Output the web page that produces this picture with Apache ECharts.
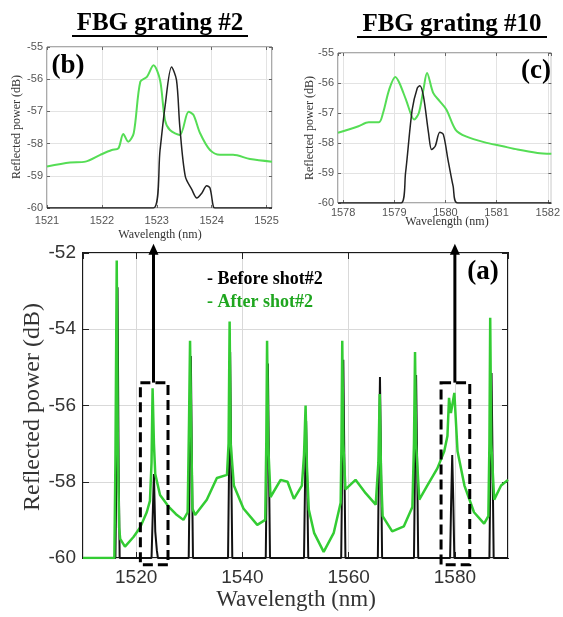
<!DOCTYPE html>
<html>
<head>
<meta charset="utf-8">
<script src="https://cdn.jsdelivr.net/npm/echarts@6/dist/echarts.min.js"></script>
<style>
  html, body { margin: 0; padding: 0; background: #fff; }
  #chart { width: 563px; height: 617px; }
</style>
</head>
<body>
<div id="chart"></div>
<script>
// (a) full spectrum, after shot#2 (green)
const mainWl = [1510, 1515.9, 1516.1, 1516.35, 1516.55, 1516.8, 1517.0, 1517.9, 1519.5, 1520.75, 1522.0, 1522.6, 1522.9, 1523.1, 1523.35, 1523.6, 1524.5, 1526.1, 1527.5, 1528.9, 1529.7, 1529.95, 1530.15, 1530.35, 1530.6, 1531.1, 1533.3, 1535.2, 1537.1, 1537.4, 1537.6, 1537.8, 1538.4, 1540.2, 1542.8, 1544.3, 1544.5, 1544.65, 1544.85, 1545.3, 1547.2, 1548.5, 1549.7, 1551.2, 1551.6, 1551.9, 1552.15, 1552.5, 1553.5, 1555.3, 1557.2, 1558.5, 1558.65, 1558.8, 1559.0, 1559.4, 1561.3, 1563.2, 1565.1, 1565.6, 1565.85, 1566.1, 1566.4, 1568.2, 1570.4, 1572.0, 1572.3, 1572.5, 1572.7, 1573.3, 1574.8, 1576.7, 1578.0, 1578.6, 1578.9, 1579.25, 1579.9, 1580.5, 1581.8, 1583.6, 1585.5, 1586.3, 1586.5, 1586.65, 1586.85, 1587.4, 1588.7, 1590];
const mainAfter = [-60, -60, -57.5, -52.2, -57, -59.2, -59.5, -59.7, -59.45, -59.2, -58.8, -58.5, -57.5, -55.55, -57.0, -57.8, -58.35, -58.65, -58.85, -59.0, -58.8, -56.5, -54.3, -56.5, -58.7, -58.87, -58.47, -57.9, -57.82, -57.0, -53.8, -57.0, -58.1, -58.7, -59.13, -59.0, -57.0, -54.3, -57.0, -58.4, -57.95, -58.0, -58.45, -58.1, -57.3, -56.0, -57.6, -58.73, -59.34, -59.84, -59.34, -58.55, -57.0, -54.3, -57.0, -58.2, -57.95, -58.3, -58.6, -57.5, -55.7, -57.8, -58.9, -59.3, -59.17, -58.66, -57.0, -54.6, -57.0, -58.47, -58.1, -57.65, -57.2, -56.8, -55.8, -56.2, -55.67, -57.2, -58.1, -58.8, -59.1, -58.9, -57.0, -53.7, -57.0, -58.47, -58.1, -57.95];

// (a) full spectrum, before shot#2 (black)
const beforeWl = [1510, 1516.1, 1516.3, 1516.5, 1516.7, 1516.9, 1522.9, 1523.1, 1523.35, 1523.6, 1523.9, 1524.1, 1529.9, 1530.1, 1530.3, 1530.5, 1530.7, 1537.3, 1537.5, 1537.7, 1537.9, 1538.1, 1544.4, 1544.6, 1544.8, 1545.0, 1545.2, 1551.6, 1551.8, 1552.0, 1552.2, 1552.4, 1558.6, 1558.8, 1559.0, 1559.2, 1559.4, 1565.5, 1565.7, 1565.9, 1566.1, 1566.3, 1572.3, 1572.5, 1572.7, 1572.9, 1573.1, 1579.1, 1579.3, 1579.5, 1579.7, 1579.9, 1586.5, 1586.7, 1586.9, 1587.1, 1587.3, 1590];
const mainBefore = [-60, -60, -57.5, -52.9, -57.5, -60, -60, -59.0, -57.8, -59.3, -59.8, -60, -60, -57.5, -54.7, -57.5, -60, -60, -57.5, -54.6, -57.5, -60, -60, -57.5, -54.9, -57.5, -60, -60, -58, -56.4, -58, -60, -60, -57.5, -54.8, -57.5, -60, -60, -57.5, -55.25, -57.5, -60, -60, -57.5, -55.2, -57.5, -60, -60, -58.5, -57.3, -58.5, -60, -60, -57.5, -55.15, -57.5, -60, -60];

// (b) FBG grating #2
const gr2AfterWl = [1521, 1521.42, 1521.7, 1521.97, 1522.18, 1522.3, 1522.39, 1522.48, 1522.58, 1522.7, 1522.82, 1522.94, 1523.06, 1523.15, 1523.24, 1523.42, 1523.58, 1523.67, 1523.79, 1523.97, 1524.15, 1524.39, 1524.7, 1525.1];
const gr2After = [-58.71, -58.59, -58.56, -58.35, -58.2, -58.15, -57.7, -57.94, -57.68, -56.08, -55.93, -55.57, -56.03, -57.27, -57.58, -57.73, -57.01, -57.11, -57.68, -58.2, -58.35, -58.35, -58.48, -58.56];
const gr2BeforeWl = [1521, 1522.94, 1523.06, 1523.15, 1523.27, 1523.36, 1523.42, 1523.52, 1523.64, 1523.73, 1523.82, 1523.91, 1523.97, 1524.03, 1524.06, 1525.1];
const gr2Before = [-60, -60, -58.2, -56.86, -55.62, -56.03, -57.47, -59.02, -59.43, -59.69, -59.54, -59.31, -59.38, -59.95, -60, -60];

// (c) FBG grating #10
const gr10AfterWl = [1577.9, 1578.3, 1578.5, 1578.7, 1578.78, 1578.9, 1579.02, 1579.1, 1579.23, 1579.39, 1579.48, 1579.57, 1579.64, 1579.76, 1579.89, 1580.02, 1580.2, 1580.4, 1580.77, 1581.1, 1581.41, 1581.8, 1582.07];
const gr10After = [-57.66, -57.44, -57.31, -57.31, -57.0, -56.22, -55.8, -56.0, -56.56, -57.22, -57.0, -56.22, -55.67, -56.33, -56.61, -56.89, -57.56, -57.78, -57.98, -58.1, -58.22, -58.33, -58.36];
const gr10BeforeWl = [1577.9, 1579.13, 1579.22, 1579.35, 1579.45, 1579.5, 1579.57, 1579.67, 1579.73, 1579.8, 1579.89, 1579.96, 1580.05, 1580.15, 1580.24, 1582.07];
const gr10Before = [-60, -60, -59.0, -56.89, -56.17, -56.09, -56.44, -57.67, -58.22, -58.11, -57.64, -57.72, -58.56, -59.44, -60, -60];

// dashed zoom boxes and arrows on (a)
const boxLeft = [1520.8, 1577.4];
const boxRight = [1526.0, 1582.8];
const arrowWl = [1523.27, 1580.0];
const boxTop = -55.4;
const boxBottom = -60.18;
const arrowTip = -51.76;

const zip = (xs, ys) => xs.map((x, i) => [x, ys[i]]);
const plain = (v) => String(v);

const chart = echarts.init(document.getElementById('chart'));

const sans = 'Liberation Sans';
const serif = 'Liberation Serif';

function mainX(top) {
  return {
    gridIndex: 0, type: 'value', min: 1510, max: 1590, splitNumber: 4,
    position: top ? 'top' : 'bottom',
    axisLine: { show: false },
    axisTick: { inside: true, length: 6, lineStyle: { color: '#222' } },
    axisLabel: top ? { show: false } : { showMinLabel: false, showMaxLabel: false, formatter: plain, fontSize: 19, color: '#333', fontFamily: sans, margin: 10 },
    splitLine: { show: !top, lineStyle: { color: '#d9d9d9' } }
  };
}
function mainY(right) {
  return {
    gridIndex: 0, type: 'value', min: -60, max: -52, interval: 2,
    position: right ? 'right' : 'left',
    axisLine: { show: false },
    axisTick: { inside: true, length: 6, lineStyle: { color: '#222' } },
    axisLabel: right ? { show: false } : { fontSize: 19, color: '#333', fontFamily: sans, margin: 7 },
    splitLine: { show: !right, lineStyle: { color: '#d9d9d9' } }
  };
}
function insetX(g, min, max, opp, margin) {
  return {
    gridIndex: g, type: 'value', min: min, max: max, splitNumber: 4,
    position: opp ? 'top' : 'bottom',
    axisLine: { show: false },
    axisTick: { inside: true, length: 3, lineStyle: { color: '#666' } },
    axisLabel: opp ? { show: false } : { showMinLabel: min % 1 === 0, showMaxLabel: false, formatter: plain, fontSize: 11, color: '#555', fontFamily: sans, margin: margin },
    splitLine: { show: !opp, lineStyle: { color: '#e3e3e3' } }
  };
}
function insetY(g, opp) {
  return {
    gridIndex: g, type: 'value', min: -60, max: -55, interval: 1,
    position: opp ? 'right' : 'left',
    axisLine: { show: false },
    axisTick: { inside: true, length: 3, lineStyle: { color: '#666' } },
    axisLabel: opp ? { show: false } : { fontSize: 11, color: '#555', fontFamily: sans, margin: 4 },
    splitLine: { show: !opp, lineStyle: { color: '#e3e3e3' } }
  };
}

const option = {
  animation: false,
  backgroundColor: '#fff',
  grid: [
    { left: 83, top: 253, width: 425, height: 305, show: true, borderColor: '#1a1a1a', borderWidth: 2 },
    { left: 47, top: 47, width: 225, height: 161, show: true, borderColor: '#555', borderWidth: 1 },
    { left: 338, top: 53, width: 219, height: 150, show: true, borderColor: '#555', borderWidth: 1 }
  ],
  xAxis: [
    mainX(false),
    insetX(1, 1521, 1525.1, false, 7),
    insetX(2, 1577.9, 1582.07, false, 4),
    mainX(true),
    insetX(1, 1521, 1525.1, true, 0),
    insetX(2, 1577.9, 1582.07, true, 0)
  ],
  yAxis: [
    mainY(false), insetY(1, false), insetY(2, false),
    mainY(true), insetY(1, true), insetY(2, true)
  ],
  series: [
    { type: 'line', xAxisIndex: 0, yAxisIndex: 0, data: zip(beforeWl, mainBefore), showSymbol: false, z: 2,
      lineStyle: { color: '#111', width: 2 } },
    { type: 'line', xAxisIndex: 0, yAxisIndex: 0, data: zip(mainWl, mainAfter), showSymbol: false, z: 3,
      lineStyle: { color: '#33cc33', width: 2.5 } },
    { type: 'line', xAxisIndex: 1, yAxisIndex: 1, data: zip(gr2AfterWl, gr2After), showSymbol: false, smooth: 0.3,
      lineStyle: { color: '#55dd55', width: 2 } },
    { type: 'line', xAxisIndex: 1, yAxisIndex: 1, data: zip(gr2BeforeWl, gr2Before), showSymbol: false, smooth: 0.3,
      lineStyle: { color: '#222', width: 1.5 } },
    { type: 'line', xAxisIndex: 2, yAxisIndex: 2, data: zip(gr10AfterWl, gr10After), showSymbol: false, smooth: 0.3,
      lineStyle: { color: '#55dd55', width: 2 } },
    { type: 'line', xAxisIndex: 2, yAxisIndex: 2, data: zip(gr10BeforeWl, gr10Before), showSymbol: false, smooth: 0.3,
      lineStyle: { color: '#222', width: 1.5 } }
  ]
};
chart.setOption(option);

function label(text, x, y, font, fill, align, rot) {
  return {
    type: 'text', x: x, y: y, rotation: rot || 0, z: 20,
    style: { text: text, font: font, fill: fill, align: align || 'center', verticalAlign: 'middle' }
  };
}
function hline(x1, x2, y, w) {
  return { type: 'line', z: 20, shape: { x1: x1, y1: y, x2: x2, y2: y }, style: { stroke: '#000', lineWidth: w } };
}

const texts = [
  label('FBG grating #2', 160, 24, 'bold 25px ' + serif, '#000'),
  hline(72, 248, 36, 2),
  label('FBG grating #10', 452, 25, 'bold 25px ' + serif, '#000'),
  hline(357, 547, 37, 2),
  label('(b)', 68, 66, 'bold 27px ' + serif, '#000'),
  label('(c)', 536, 71, 'bold 27px ' + serif, '#000'),
  label('(a)', 483, 272, 'bold 27px ' + serif, '#000'),
  label('- Before shot#2', 207, 279, 'bold 18px ' + serif, '#000', 'left'),
  label('- After shot#2', 207, 302, 'bold 18px ' + serif, '#1fa61f', 'left'),
  label('Reflected power (dB)', 17, 127, '12px ' + serif, '#333', 'center', Math.PI / 2),
  label('Wavelength (nm)', 160, 235, '12px ' + serif, '#333'),
  label('Reflected power (dB)', 310, 128, '12px ' + serif, '#333', 'center', Math.PI / 2),
  label('Wavelength (nm)', 447, 222, '12px ' + serif, '#333'),
  label('Reflected power (dB)', 33, 407, '24px ' + serif, '#333', 'center', Math.PI / 2),
  label('Wavelength (nm)', 296, 600, '23px ' + serif, '#333')
];

const px = (x, y) => chart.convertToPixel({ gridIndex: 0 }, [x, y]);
const marks = [];
boxLeft.forEach((x0, i) => {
  const a = px(x0, boxTop);
  const b = px(boxRight[i], boxBottom);
  marks.push({
    type: 'rect', z: 15,
    shape: { x: a[0], y: a[1], width: b[0] - a[0], height: b[1] - a[1] },
    style: { fill: 'none', stroke: '#000', lineWidth: 3, lineDash: [10, 5] }
  });
  const s = px(arrowWl[i], boxTop);
  const t = px(arrowWl[i], arrowTip);
  marks.push({
    type: 'line', z: 15,
    shape: { x1: s[0], y1: s[1], x2: t[0], y2: t[1] + 8 },
    style: { stroke: '#000', lineWidth: 3 }
  });
  marks.push({
    type: 'polygon', z: 15,
    shape: { points: [[t[0], t[1]], [t[0] - 5, t[1] + 11], [t[0] + 5, t[1] + 11]] },
    style: { fill: '#000' }
  });
});

chart.setOption({ graphic: texts.concat(marks) });
</script>
</body>
</html>
